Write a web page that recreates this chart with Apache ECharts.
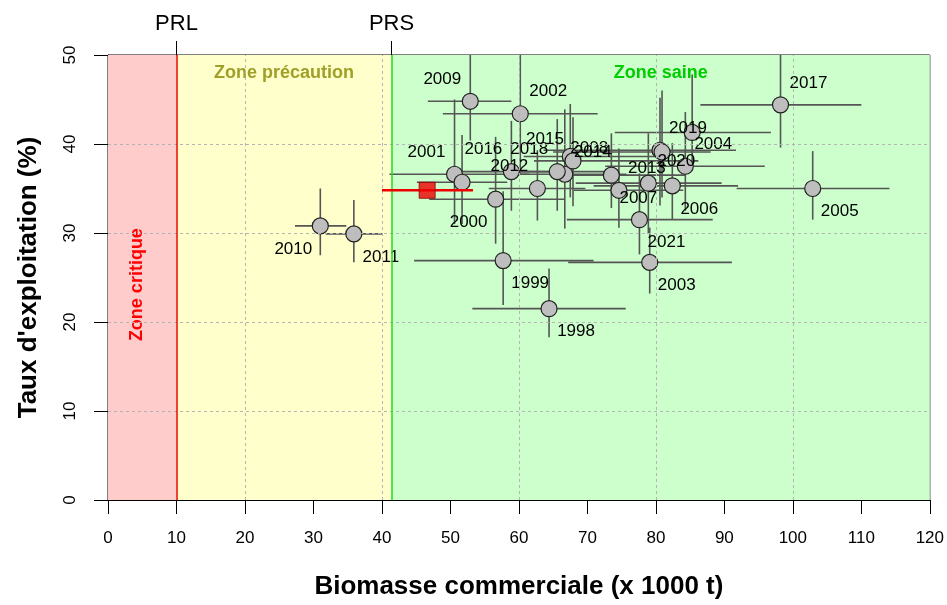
<!DOCTYPE html>
<html>
<head>
<meta charset="utf-8">
<script src="https://cdn.jsdelivr.net/npm/echarts@6/dist/echarts.min.js"></script>
<style>
	html, body { margin: 0; padding: 0; background: #fff; }
	#main { width: 947px; height: 605px; }
</style>
</head>
<body>
<div id="main"></div>
<script>
	// points de référence (x 1000 t)
	const PRL = 10
	const PRS = 41.4

	// séries annuelles : biomasse, taux d'exploitation et intervalles
	const years    = ['1998','1999','2000','2001','2002','2003','2004','2005','2006','2007','2008','2009','2010','2011','2012','2013','2014','2015','2016','2017','2018','2019','2020','2021','','','']
	const biomasse = [64.4, 57.7, 56.6, 50.6, 60.2, 79.1, 84.3, 102.9, 82.4, 73.5, 67.5, 52.9, 31.0, 35.9, 62.7, 74.6, 66.7, 67.9, 58.9, 98.2, 65.6, 80.6, 78.9, 77.6, 51.7, 80.9, 85.3]
	const taux     = [21.5, 26.9, 33.8, 36.6, 43.4, 26.7, 37.5, 35.0, 35.3, 36.5, 38.6, 44.8, 30.8, 29.9, 35.0, 34.8, 36.6, 38.1, 36.9, 44.4, 36.9, 39.3, 35.6, 31.5, 35.7, 39.1, 41.3]
	const biomLow  = [53.2, 44.7, 46.9, 41.1, 48.9, 67.2, 72.6, 91.8, 70.9, 64.6, 60.7, 46.7, 27.3, 31.8, 55.6, 68.0, 59.0, 62.2, 51.7, 86.5, 58.3, 63.6, 68.3, 67.0, 45.1, 65.0, 74.0]
	const biomHigh = [75.6, 70.9, 66.6, 61.5, 71.5, 91.1, 95.9, 114.1, 92.0, 84.3, 80.4, 58.9, 34.8, 40.0, 69.7, 84.0, 75.7, 86.2, 66.5, 110.0, 73.4, 91.7, 89.6, 88.3, 58.3, 88.0, 96.8]
	const tauxLow  = [18.3, 21.9, 28.8, 31.0, 36.7, 23.2, 32.5, 31.5, 31.5, 32.8, 34.0, 40.4, 27.5, 26.7, 31.4, 30.6, 30.5, 33.0, 32.5, 39.6, 32.5, 33.1, 29.9, 27.6, 31.0, 34.0, 37.8]
	const tauxHigh = [26.0, 34.7, 40.8, 45.0, 53.0, 30.6, 43.6, 39.2, 40.1, 41.2, 44.5, 53.0, 35.0, 33.7, 39.3, 39.5, 43.9, 43.0, 42.6, 53.0, 42.8, 45.2, 41.2, 36.7, 41.0, 46.0, 47.8]
	// placement des étiquettes (tl, tr, bl, br, r)
	const labelPos = ['br','br','bl','tl','tr','br','tr','br','br','br','r','tl','bl','br','tl','tr','tr','tl','tl','tr','tl','tr','tr','br','tr','tr','tr']

	// dernière année (carré rouge)
	const actuelBiomasse = 46.6
	const actuelTaux = 34.8
	const actuelLow = 40.0
	const actuelHigh = 53.3

	const zoneNames = ['Zone critique', 'Zone précaution', 'Zone saine']
	const zoneColors = ['#ffcccc', '#ffffcc', '#ccffcc']
	const zoneTextColors = ['#ff0000', '#a0a028', '#00cc00']
	const xMax = 120
	const yMax = 50

	const font = 'Arial, "Liberation Sans", sans-serif'
	const offsets = { tl: [-28, -22], tr: [28, -22], bl: [-27, 23], br: [27, 23], r: [19, -8] }

	const bounds = [0, PRL, PRS, xMax]

	let barData = []
	let pointData = []
	for (let i = 0; i < years.length; i++) {
		barData.push([biomasse[i], taux[i], biomLow[i], biomHigh[i], tauxLow[i], tauxHigh[i]])
		pointData.push({
			value: [biomasse[i], taux[i]],
			label: { show: years[i] !== '', formatter: years[i], offset: offsets[labelPos[i]] }
		})
	}

	// étiquettes des zones : [x, y, indice]
	let zoneLabelData = [
		[(bounds[0] + bounds[1]) / 2, 24.2, 0],
		[(bounds[1] + bounds[2]) / 2, 48, 1],
		[(bounds[2] + bounds[3]) / 2, 48, 2],
	]

	// quadrillage pointillé (au-dessus des zones colorées)
	let gridLines = []
	for (let v = 20; v < xMax; v += 20) gridLines.push({ xAxis: v })
	for (let v = 10; v < yMax; v += 10) gridLines.push({ yAxis: v })

	function errorBars(color, width) {
		return function (params, api) {
			let x = api.value(0), y = api.value(1)
			let l = api.coord([api.value(2), y]), r = api.coord([api.value(3), y])
			let b = api.coord([x, api.value(4)]), t = api.coord([x, api.value(5)])
			let style = { stroke: color, lineWidth: width }
			return {
				type: 'group',
				children: [
					{ type: 'line', shape: { x1: l[0], y1: l[1], x2: r[0], y2: r[1] }, style: style },
					{ type: 'line', shape: { x1: b[0], y1: b[1], x2: t[0], y2: t[1] }, style: style },
				]
			}
		}
	}

	function zoneText(params, api) {
		let i = api.value(2)
		let p = api.coord([api.value(0), api.value(1)])
		let vertical = i === 0
		return {
			type: 'text',
			x: vertical ? p[0] - 5 : p[0],
			y: p[1],
			rotation: vertical ? Math.PI / 2 : 0,
			style: {
				text: zoneNames[i],
				fill: zoneTextColors[i],
				font: 'bold 18px ' + font,
				align: 'center',
				verticalAlign: 'middle',
			}
		}
	}

	let option = {
		animation: false,
		backgroundColor: '#fff',
		textStyle: { fontFamily: font },
		grid: { left: 108, right: 15, top: 55, bottom: 98, show: true, borderColor: '#000', borderWidth: 1, backgroundColor: 'transparent' },
		xAxis: [
			{
				type: 'value', min: 0, max: xMax, interval: 10, position: 'bottom',
				axisLine: { show: true, lineStyle: { color: '#000', width: 1 } },
				axisTick: { show: true, length: 14, lineStyle: { color: '#000' } },
				axisLabel: { fontSize: 17, color: '#000', margin: 30, fontFamily: font },
				splitLine: { show: false },
				name: 'Biomasse commerciale (x 1000 t)', nameLocation: 'middle', nameGap: 74,
				nameTextStyle: { fontSize: 26, fontWeight: 'bold', color: '#000', fontFamily: font },
			},
			{
				type: 'value', min: 0, max: xMax, position: 'top',
				axisLine: { show: false },
				axisTick: { show: true, customValues: [PRL, PRS], length: 14, lineStyle: { color: '#000' } },
				axisLabel: { show: true, customValues: [PRL, PRS], formatter: function (v) { return v === PRL ? 'PRL' : 'PRS' }, fontSize: 22, color: '#000', margin: 20 },
				splitLine: { show: false },
			},
		],
		yAxis: {
			type: 'value', min: 0, max: yMax, interval: 10,
			axisLine: { show: true, lineStyle: { color: '#000', width: 1 } },
			axisTick: { show: true, length: 14, lineStyle: { color: '#000' } },
			axisLabel: { rotate: 90, fontSize: 17, color: '#000', margin: 29, fontFamily: font },
			splitLine: { show: false },
			name: "Taux d'exploitation (%)", nameLocation: 'middle', nameGap: 66,
			nameTextStyle: { fontSize: 26, fontWeight: 'bold', color: '#000', fontFamily: font },
		},
		series: [
			{
				name: 'zones',
				type: 'scatter',
				z: -1,
				silent: true,
				data: [],
				markArea: {
					silent: true,
					data: [
						[{ xAxis: bounds[0], itemStyle: { color: zoneColors[0] } }, { xAxis: bounds[1] }],
						[{ xAxis: bounds[1], itemStyle: { color: zoneColors[1] } }, { xAxis: bounds[2] }],
						[{ xAxis: bounds[2], itemStyle: { color: zoneColors[2] } }, { xAxis: bounds[3] }],
					]
				},
			},
			{
				name: 'quadrillage',
				type: 'scatter',
				z: 0,
				silent: true,
				data: [],
				markLine: {
					silent: true,
					symbol: 'none',
					label: { show: false },
					lineStyle: { color: '#b4b4b4', type: [3, 3], width: 1 },
					data: gridLines,
				},
			},
			{
				name: 'seuils',
				type: 'scatter',
				z: 1,
				silent: true,
				data: [],
				markLine: {
					silent: true,
					symbol: 'none',
					label: { show: false },
					data: [
						{ xAxis: PRL, lineStyle: { color: '#ee0000', type: 'solid', width: 1.5 } },
						{ xAxis: PRS, lineStyle: { color: '#22dd22', type: 'solid', width: 1.5 } },
					]
				},
			},
			{
				name: 'etiquettes_zones',
				type: 'custom',
				z: 2,
				silent: true,
				renderItem: zoneText,
				encode: { x: 0, y: 1 },
				data: zoneLabelData,
			},
			{
				name: 'intervalles',
				type: 'custom',
				z: 3,
				clip: true,
				silent: true,
				renderItem: errorBars('#555555', 1.6),
				encode: { x: 0, y: 1 },
				data: barData,
			},
			{
				name: 'années',
				type: 'scatter',
				z: 4,
				symbol: 'circle',
				symbolSize: 16,
				itemStyle: { color: '#bebebe', borderColor: '#222', borderWidth: 1.2, opacity: 1 },
				label: { show: true, position: 'inside', color: '#000', fontSize: 17, fontFamily: font },
				data: pointData,
			},
			{
				name: 'actuel_bar',
				type: 'custom',
				z: 5,
				clip: true,
				silent: true,
				renderItem: errorBars('#ee0000', 2.5),
				encode: { x: 0, y: 1 },
				data: [[actuelBiomasse, actuelTaux, actuelLow, actuelHigh, actuelTaux, actuelTaux]],
			},
			{
				name: 'actuel',
				type: 'scatter',
				z: 6,
				symbol: 'rect',
				symbolSize: 16,
				itemStyle: { color: '#ee0000', borderColor: '#880000', borderWidth: 1 },
				data: [[actuelBiomasse, actuelTaux]],
			},
		]
	}

	let myChart = echarts.init(document.getElementById('main'))
	myChart.setOption(option)
</script>
</body>
</html>
